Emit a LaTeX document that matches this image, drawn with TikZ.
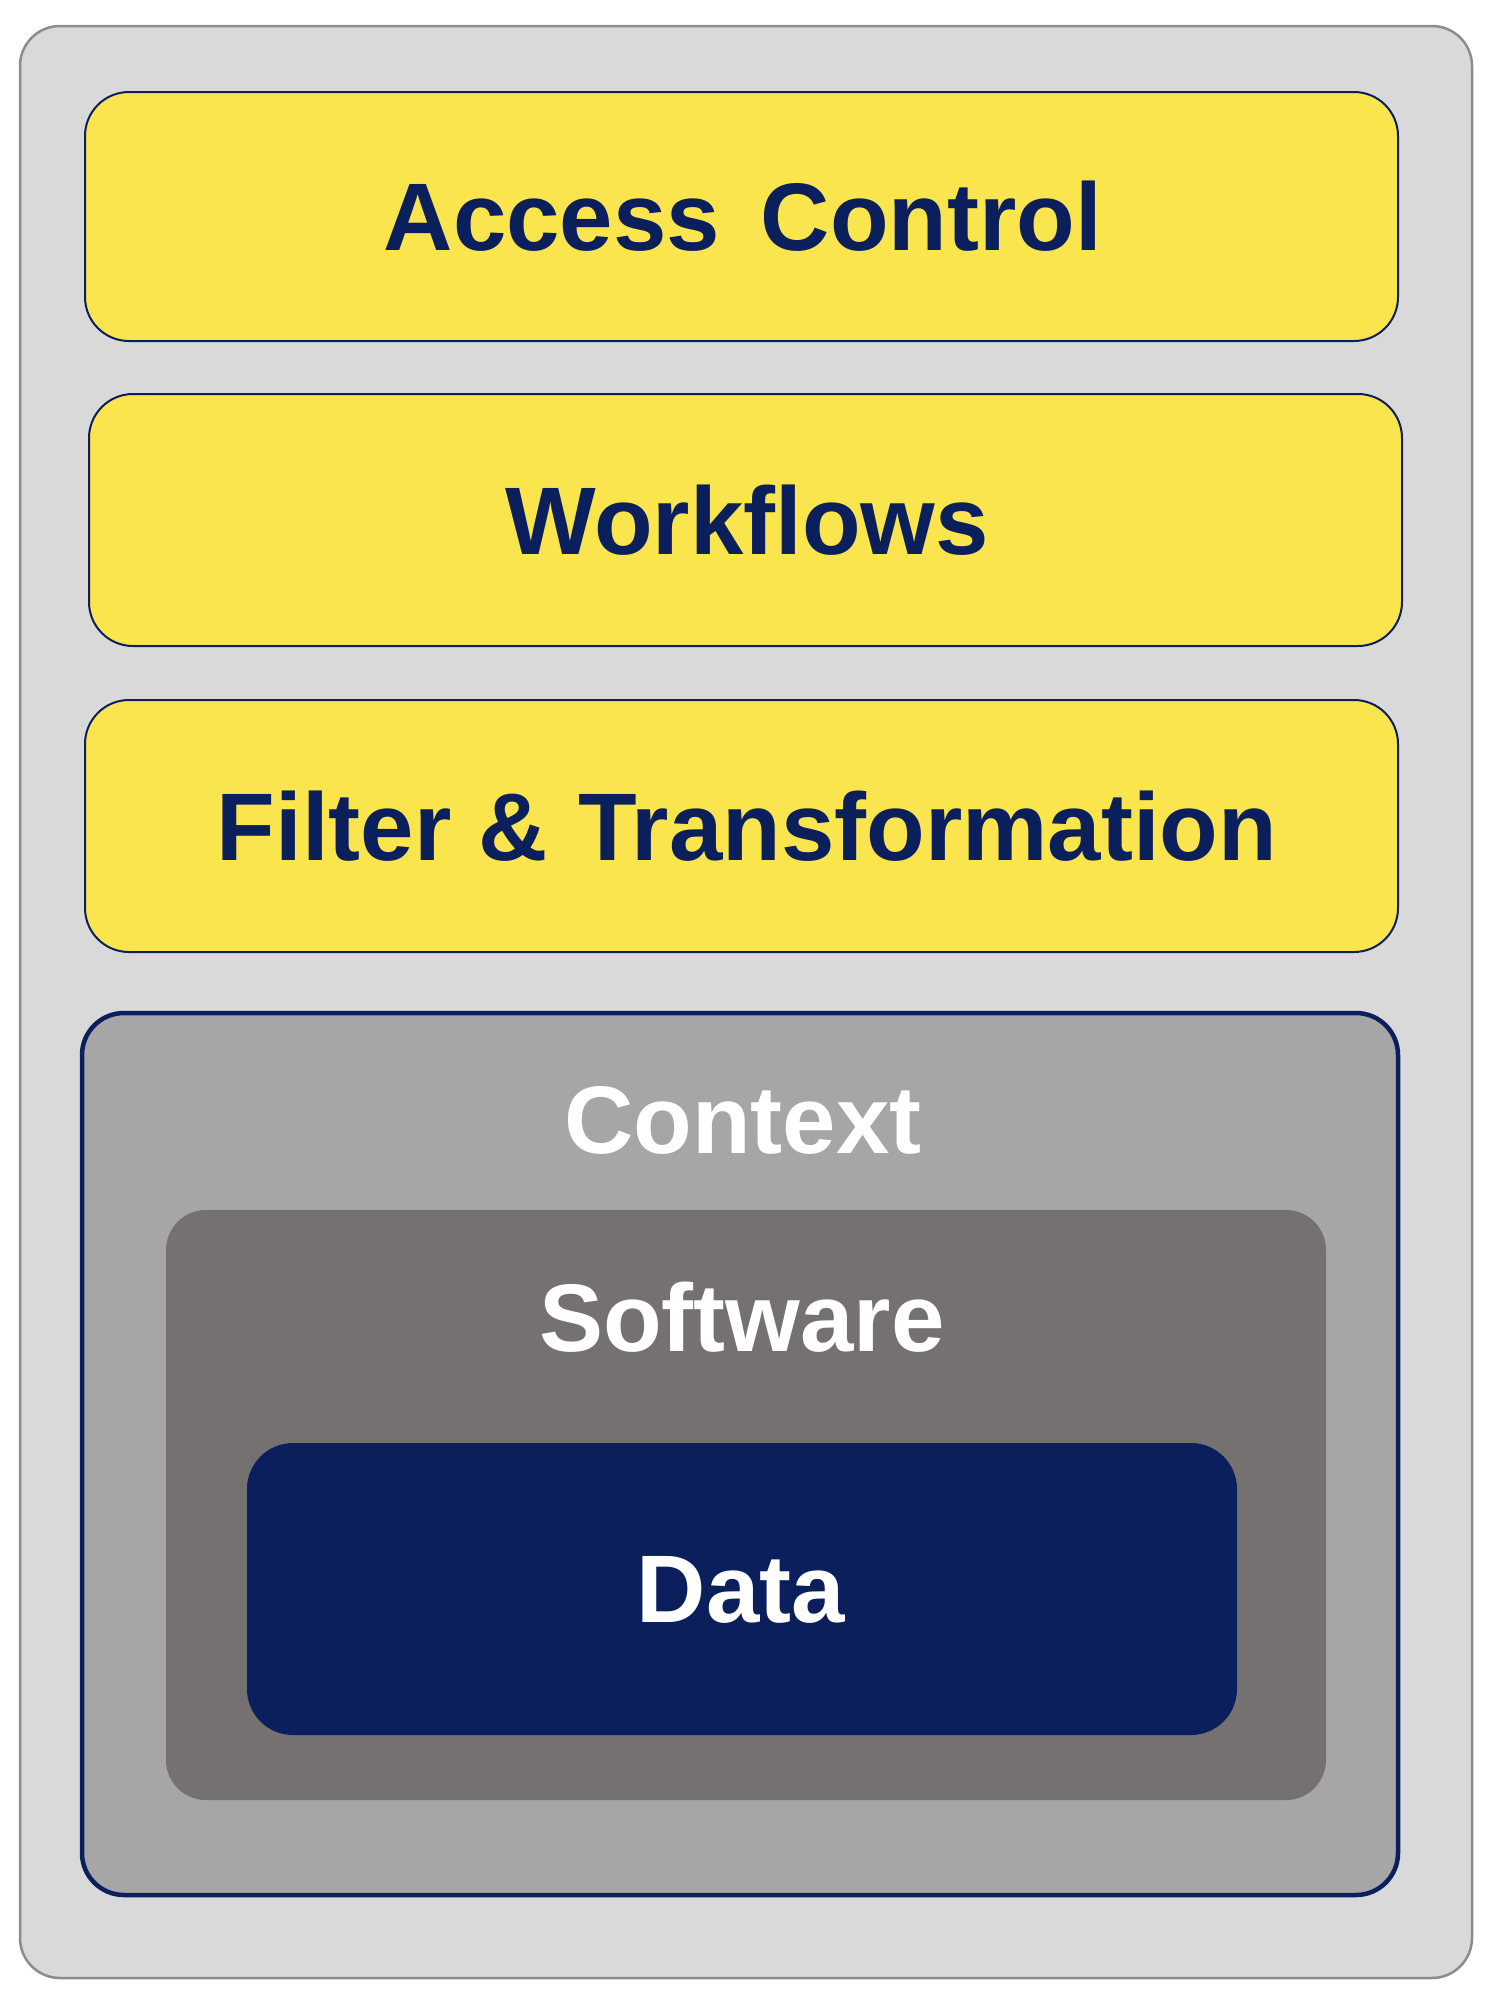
\documentclass[tikz,border=0pt]{standalone}
\usepackage{fontspec}
\setmainfont{Liberation Sans}
\definecolor{navy}{HTML}{0A1F5C}
\definecolor{yel}{HTML}{FAE54E}
\definecolor{outerfill}{HTML}{D9D9D9}
\definecolor{outerline}{HTML}{8C8C8C}
\definecolor{ctxfill}{HTML}{A6A6A6}
\definecolor{swfill}{HTML}{767171}
\begin{document}
\begin{tikzpicture}[x=1pt,y=-1pt,
  lbl/.style={font=\fontsize{96}{110}\selectfont\bfseries, inner sep=0pt},
  layer/.style={draw=navy, line width=2pt, fill=yel, rounded corners=44pt}]
\useasboundingbox (0,0) rectangle (1500,1995);
% outer
\draw[fill=outerfill, draw=outerline, line width=2.5pt, rounded corners=40pt] (20,26) rectangle (1472,1978);
% yellow layers
\draw[layer] (85,92) rectangle (1398,341);
\node[lbl, text=navy] (access) at (743,216) {Access\hspace{14pt} Control};
\draw[layer] (89,394) rectangle (1402,646);
\node[lbl, text=navy] (workflows) at (747,520) {Workflows};
\draw[layer] (85,700) rectangle (1398,952);
\node[lbl, text=navy] (filter) at (747,826) {Filter \&\hspace{4pt} Transformation};
% context
\draw[fill=ctxfill, draw=navy, line width=4.5pt, rounded corners=42pt] (82,1013) rectangle (1398,1895);
\node[lbl, text=white] (context) at (743,1120) {Context};
% software
\fill[swfill, rounded corners=40pt] (166,1210) rectangle (1326,1800);
\node[lbl, text=white] (software) at (742,1317) {Software};
% data
\fill[navy, rounded corners=46pt] (247,1443) rectangle (1237,1735);
\node[lbl, text=white] (data) at (741,1590) {Data};
\end{tikzpicture}
\end{document}
